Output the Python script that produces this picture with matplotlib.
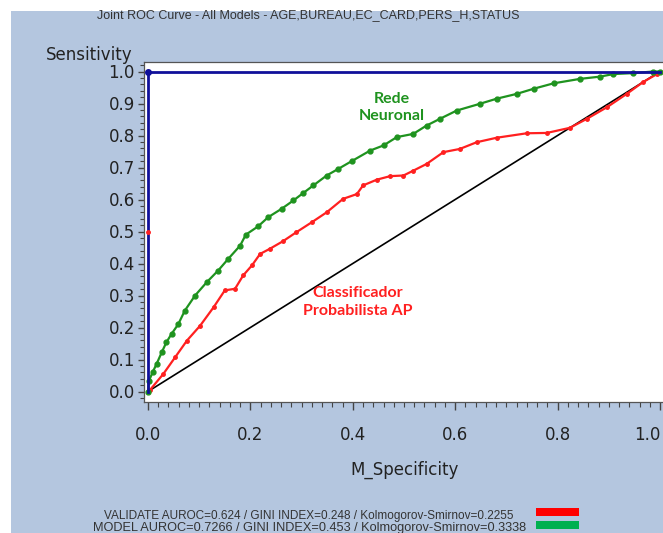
import matplotlib
matplotlib.use("Agg")
import matplotlib.pyplot as plt
from matplotlib.patches import Rectangle
from matplotlib.ticker import MultipleLocator

# ROC curve for the neural network model (1 - specificity, sensitivity)
nn_fpr = [0.0, 0.002, 0.009, 0.017, 0.027, 0.036, 0.046, 0.059, 0.072, 0.092,
          0.115, 0.137, 0.157, 0.180, 0.191, 0.215, 0.235, 0.261, 0.284, 0.303,
          0.323, 0.349, 0.372, 0.398, 0.434, 0.460, 0.486, 0.518, 0.544, 0.570,
          0.603, 0.648, 0.681, 0.720, 0.753, 0.792, 0.844, 0.883, 0.909, 0.948,
          0.987, 1.0]
nn_tpr = [0.0, 0.034, 0.060, 0.087, 0.123, 0.154, 0.180, 0.210, 0.253, 0.300,
          0.342, 0.378, 0.415, 0.456, 0.490, 0.516, 0.545, 0.571, 0.597, 0.620,
          0.644, 0.675, 0.696, 0.720, 0.753, 0.769, 0.795, 0.805, 0.831, 0.852,
          0.878, 0.899, 0.915, 0.930, 0.946, 0.963, 0.977, 0.984, 0.992, 0.995,
          1.0, 1.0]

# ROC curve for the probabilistic classifier
ap_fpr = [0.0, 0.004, 0.030, 0.053, 0.076, 0.102, 0.128, 0.150, 0.170, 0.186,
          0.203, 0.219, 0.238, 0.264, 0.290, 0.320, 0.349, 0.381, 0.408, 0.420,
          0.447, 0.473, 0.499, 0.518, 0.544, 0.577, 0.609, 0.642, 0.681, 0.740,
          0.779, 0.824, 0.857, 0.896, 0.935, 0.967, 0.994, 1.0]
ap_tpr = [0.0, 0.005, 0.055, 0.107, 0.159, 0.206, 0.263, 0.316, 0.321, 0.363,
          0.394, 0.430, 0.446, 0.470, 0.498, 0.529, 0.560, 0.602, 0.617, 0.644,
          0.662, 0.673, 0.675, 0.690, 0.711, 0.748, 0.758, 0.779, 0.793, 0.807,
          0.808, 0.824, 0.852, 0.888, 0.930, 0.967, 0.992, 1.0]

# perfect classifier and random baseline
ideal_x = [0.0, 0.0, 1.0]
ideal_y = [0.0, 1.0, 1.0]
base_x = [0.0, 1.0]
base_y = [0.0, 1.0]

x_ticks = [0.0, 0.2, 0.4, 0.6, 0.8, 1.0]
y_ticks = [0.0, 0.1, 0.2, 0.3, 0.4, 0.5, 0.6, 0.7, 0.8, 0.9, 1.0]

title = "Joint ROC Curve - All Models - AGE,BUREAU,EC_CARD,PERS_H,STATUS"
stats_validate = "VALIDATE AUROC=0.624 / GINI INDEX=0.248 / Kolmogorov-Smirnov=0.2255"
stats_model = "MODEL AUROC=0.7266 / GINI INDEX=0.453 / Kolmogorov-Smirnov=0.3338"

W, H = 663, 533
BG = "#b4c6df"
GREEN = "#1f931f"
RED = "#ff2020"
BLUE = "#10109a"

fig = plt.figure(figsize=(W / 100, H / 100), dpi=100, facecolor="white")
fig.patches.append(Rectangle((11 / W, 0), 1, (H - 11) / H, transform=fig.transFigure,
                             facecolor=BG, edgecolor="none", zorder=-10))

def fx(px):
    return px / W

def fy(py):
    return 1 - py / H

# axes box in pixels: left 144, top 62, bottom 402, right runs off the canvas
ax = fig.add_axes([fx(144), fy(402), (668 - 144) / W, (402 - 62) / H])
ax.set_zorder(1)
ax.set_facecolor("white")
ax.set_xlim(-4 / 512, (668 - 148) / 512)
ax.set_ylim(-(402 - 391.5) / 320, 1 + (71.5 - 62) / 320)

ax.plot(base_x, base_y, color="black", lw=1.2, zorder=2)
ax.plot(ap_fpr, ap_tpr, color=RED, lw=1.6, marker="o", ms=2.5, zorder=3)
ax.plot(nn_fpr, nn_tpr, color=GREEN, lw=1.6, marker="o", ms=3.5, zorder=4)
ax.plot(ideal_x, ideal_y, color=BLUE, lw=2.0, zorder=5, clip_on=False)
ax.plot([0.0], [1.0], marker="o", color=BLUE, ms=4, zorder=6, clip_on=False)
ax.plot([0.0], [0.5], marker="o", color=RED, ms=2.5, zorder=6, clip_on=False)

for s in ax.spines.values():
    s.set_color("#555555")
    s.set_linewidth(0.9)

ax.set_xticks(x_ticks)
ax.set_yticks(y_ticks)
ax.set_xticklabels([f"{v:.1f}" for v in x_ticks])
ax.set_yticklabels([f"{v:.1f}" for v in y_ticks])
ax.xaxis.set_minor_locator(MultipleLocator(0.02))
ax.yaxis.set_minor_locator(MultipleLocator(0.02))
ax.tick_params(axis="x", which="major", direction="out", length=6, width=1,
               color="#444444", labelsize=12, labelcolor="#222222", pad=11)
ax.tick_params(axis="x", which="minor", direction="out", length=3.5, width=0.8,
               color="#444444")
ax.tick_params(axis="y", which="major", direction="out", length=4.5, width=1,
               color="#444444", labelsize=12, labelcolor="#222222", pad=2)
ax.tick_params(axis="y", which="minor", direction="out", length=3, width=0.8,
               color="#444444")
# keep the last x label inside the canvas edge
ax.get_xticklabels()[-1].set_horizontalalignment("right")
ax.get_xticklabels()[-1].set_x(1.0)

ax.text(0.477, 0.8875, "Rede\nNeuronal", color=GREEN, fontsize=11.5,
        fontweight="bold", family="Lato", ha="center", va="center",
        linespacing=1.3)
ax.text(0.41, 0.28, "Classificador\nProbabilista AP", color=RED, fontsize=11.5,
        fontweight="bold", family="Lato", ha="center", va="center",
        linespacing=1.3)

fig.text(fx(308), fy(15), title, fontsize=9, family="Liberation Sans",
         color="#333333", ha="center", va="center")
fig.text(fx(89), fy(55), "Sensitivity", fontsize=12, color="#222222",
         ha="center", va="center")
fig.text(fx(405), fy(470), "M_Specificity", fontsize=12, color="#222222",
         ha="center", va="center")

fig.text(fx(513), fy(516), stats_validate, fontsize=8.5, family="Liberation Sans",
         color="#333333", ha="right", va="center")
fig.text(fx(526), fy(528), stats_model, fontsize=9.2, family="Liberation Sans",
         color="#333333", ha="right", va="center")
fig.patches.append(Rectangle((fx(536), fy(516)), (579 - 536) / W, 8 / H,
                             transform=fig.transFigure, facecolor="#ff0000",
                             edgecolor="none", zorder=2))
fig.patches.append(Rectangle((fx(536), fy(529)), (579 - 536) / W, 8 / H,
                             transform=fig.transFigure, facecolor="#00b050",
                             edgecolor="none", zorder=2))

fig.savefig("out.png", dpi=100, facecolor=fig.get_facecolor())
